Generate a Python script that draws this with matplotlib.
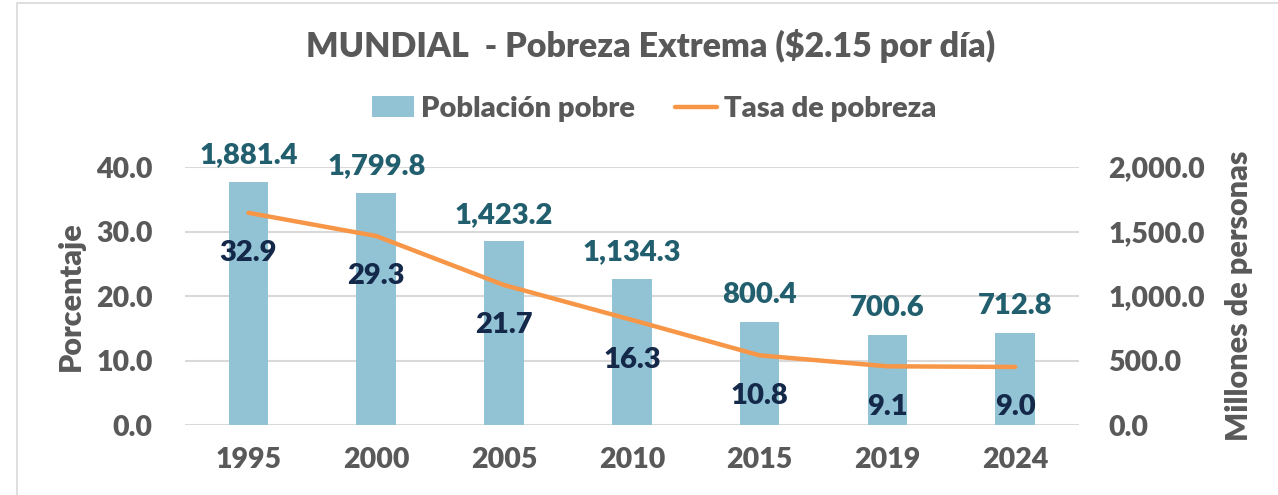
import matplotlib
matplotlib.use("Agg")
import matplotlib.pyplot as plt
from matplotlib.patches import Rectangle, Patch
from matplotlib.lines import Line2D

# Datos
anios = ["1995", "2000", "2005", "2010", "2015", "2019", "2024"]
poblacion_pobre = [1881.4, 1799.8, 1423.2, 1134.3, 800.4, 700.6, 712.8]  # millones
tasa_pobreza = [32.9, 29.3, 21.7, 16.3, 10.8, 9.1, 9.0]  # porcentaje

# Colores
col_barra = "#92C3D5"
col_linea = "#F79646"
col_txt = "#595959"
col_lbl_barra = "#215E6E"
col_lbl_linea = "#14284A"
col_grid = "#D9D9D9"
peso = "heavy"

plt.rcParams['font.family'] = ['Lato', 'DejaVu Sans']
plt.rcParams['font.weight'] = peso

fig = plt.figure(figsize=(12.78, 4.95), dpi=100)
fig.patches.append(Rectangle((17 / 1278, -0.05), 1.2, 1.05 - 3 / 495,
                             transform=fig.transFigure, fill=False,
                             edgecolor="#D9D9D9", linewidth=1.2))

ax2 = fig.add_axes([0.1444, 0.1414, 0.700, 0.5212])
ax = ax2.twinx()
ax.yaxis.tick_left()
ax.yaxis.set_label_position("left")
ax2.yaxis.tick_right()
ax2.yaxis.set_label_position("right")
ax.set_zorder(ax2.get_zorder() + 1)
ax.patch.set_visible(False)

x = list(range(len(anios)))

# Barras (eje derecho)
ax2.bar(x, poblacion_pobre, width=0.31, color=col_barra, zorder=2)
ax2.set_ylim(0, 2000)
ax2.set_yticks([0, 500, 1000, 1500, 2000])
ax2.set_yticklabels([f"{v:,.1f}" for v in [0, 500, 1000, 1500, 2000]])
ax2.grid(axis='y', color=col_grid, linewidth=1.5, zorder=0)
ax2.set_axisbelow(True)
for xi, v in zip(x, poblacion_pobre):
    ax2.annotate(f"{v:,.1f}", (xi, v), xytext=(0, 13.5), textcoords="offset points",
                 ha="center", va="baseline", fontsize=21, color=col_lbl_barra,
                 fontweight=peso, annotation_clip=False)

# Línea (eje izquierdo)
ax.plot(x, tasa_pobreza, color=col_linea, linewidth=3.2, solid_capstyle="round", zorder=3)
ax.set_ylim(0, 40)
ax.set_yticks([0, 10, 20, 30, 40])
ax.set_yticklabels([f"{v:.1f}" for v in [0, 10, 20, 30, 40]])
for xi, v in zip(x, tasa_pobreza):
    ax.annotate(f"{v:.1f}", (xi, v), xytext=(0, -29), textcoords="offset points",
                ha="center", va="center", fontsize=21, color=col_lbl_linea,
                fontweight=peso, annotation_clip=False)

ax2.set_xlim(-0.5, len(anios) - 0.5)
ax2.set_xticks(x)
ax2.set_xticklabels(anios)

for a in (ax, ax2):
    for s in a.spines.values():
        s.set_visible(False)
    a.tick_params(length=0, labelsize=20.5, labelcolor=col_txt)
ax2.tick_params(axis='x', pad=16)
ax.tick_params(axis='y', pad=23)
ax2.tick_params(axis='y', pad=21)

ax.set_ylabel("Porcentaje", fontsize=22, color=col_txt, fontweight=peso, labelpad=8)
ax2.set_ylabel("Millones de personas", fontsize=22, color=col_txt, fontweight=peso, labelpad=14)

fig.text(0.509, 0.908, "MUNDIAL  - Pobreza Extrema ($2.15 por día)", ha="center", va="center",
         fontsize=24.5, color=col_txt, fontweight=peso)

handles = [Patch(facecolor=col_barra, edgecolor="none"),
           Line2D([0], [0], color=col_linea, linewidth=3.2, solid_capstyle="round")]
fig.legend(handles, ["Población pobre", "Tasa de pobreza"], loc="center",
           bbox_to_anchor=(0.512, 0.78), ncol=2, frameon=False, fontsize=21,
           labelcolor=col_txt, handlelength=1.45, handletextpad=0.25, columnspacing=1.35)

fig.savefig("out.png", dpi=100)
